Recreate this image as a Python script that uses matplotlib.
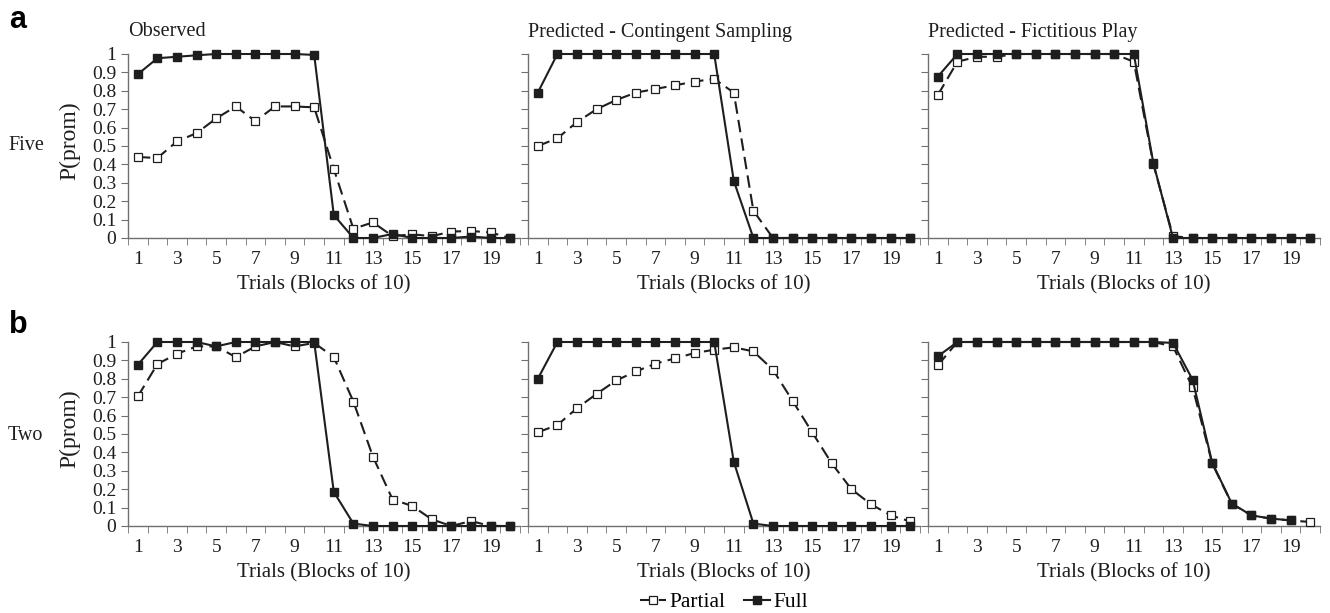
import matplotlib
matplotlib.use("Agg")
import matplotlib.pyplot as plt
import numpy as np

plt.rcParams["font.family"] = ["Liberation Serif", "DejaVu Serif"]

trials = np.arange(1, 21)

# row "Five"
five_obs_partial = [0.44, 0.435, 0.525, 0.57, 0.65, 0.715, 0.635, 0.715, 0.715, 0.71,
                    0.375, 0.05, 0.085, 0.01, 0.02, 0.01, 0.035, 0.038, 0.03, 0.0]
five_obs_full = [0.89, 0.977, 0.985, 0.993, 1.0, 1.0, 1.0, 1.0, 1.0, 0.995,
                 0.125, 0.0, 0.0, 0.022, 0.0, 0.0, 0.0, 0.008, 0.0, 0.0]
five_cs_partial = [0.5, 0.542, 0.63, 0.70, 0.75, 0.79, 0.81, 0.83, 0.85, 0.865,
                   0.79, 0.148, 0.0, 0.0, 0.0, 0.0, 0.0, 0.0, 0.0, 0.0]
five_cs_full = [0.79, 1.0, 1.0, 1.0, 1.0, 1.0, 1.0, 1.0, 1.0, 1.0,
                0.31, 0.0, 0.0, 0.0, 0.0, 0.0, 0.0, 0.0, 0.0, 0.0]
five_fp_partial = [0.777, 0.958, 0.985, 0.985, 1.0, 1.0, 1.0, 1.0, 1.0, 1.0,
                   0.958, 0.40, 0.01, 0.0, 0.0, 0.0, 0.0, 0.0, 0.0, 0.0]
five_fp_full = [0.877, 1.0, 1.0, 1.0, 1.0, 1.0, 1.0, 1.0, 1.0, 1.0,
                1.0, 0.406, 0.0, 0.0, 0.0, 0.0, 0.0, 0.0, 0.0, 0.0]

# row "Two"
two_obs_partial = [0.704, 0.88, 0.936, 0.976, 0.976, 0.918, 0.976, 1.0, 0.976, 0.995,
                   0.918, 0.676, 0.376, 0.144, 0.109, 0.036, 0.0, 0.027, 0.0, 0.0]
two_obs_full = [0.876, 1.0, 1.0, 1.0, 0.976, 1.0, 1.0, 1.0, 1.0, 1.0,
                0.185, 0.013, 0.0, 0.0, 0.0, 0.0, 0.0, 0.0, 0.0, 0.0]
two_cs_partial = [0.509, 0.549, 0.64, 0.718, 0.791, 0.84, 0.882, 0.911, 0.94, 0.958,
                  0.971, 0.949, 0.849, 0.68, 0.509, 0.34, 0.2, 0.118, 0.058, 0.025]
two_cs_full = [0.8, 1.0, 1.0, 1.0, 1.0, 1.0, 1.0, 1.0, 1.0, 1.0,
               0.349, 0.013, 0.0, 0.0, 0.0, 0.0, 0.0, 0.0, 0.0, 0.0]
two_fp_partial = [0.873, 1.0, 1.0, 1.0, 1.0, 1.0, 1.0, 1.0, 1.0, 1.0,
                  1.0, 1.0, 0.976, 0.753, 0.34, 0.12, 0.058, 0.04, 0.03, 0.022]
two_fp_full = [0.922, 1.0, 1.0, 1.0, 1.0, 1.0, 1.0, 1.0, 1.0, 1.0,
               1.0, 1.0, 0.995, 0.795, 0.344, 0.122, 0.058, 0.04, 0.031, np.nan]

titles = ["Observed", "Predicted - Contingent Sampling", "Predicted - Fictitious Play"]
row_names = ["Five", "Two"]
panel_letters = ["a", "b"]

panels = [
    [(five_obs_partial, five_obs_full), (five_cs_partial, five_cs_full), (five_fp_partial, five_fp_full)],
    [(two_obs_partial, two_obs_full), (two_cs_partial, two_cs_full), (two_fp_partial, two_fp_full)],
]

W, H = 1330, 613
fig = plt.figure(figsize=(W / 100, H / 100), dpi=100)

ink = "#1e1e1e"
spine_c = "#707070"
fs = 14

lefts = [128, 528, 928]
bottoms = [238, 526]
ax_w, ax_h = 392, 184

for r in range(2):
    for c in range(3):
        ax = fig.add_axes([lefts[c] / W, 1 - bottoms[r] / H, ax_w / W, ax_h / H])
        partial, full = panels[r][c]
        ax.plot(trials, partial, color=ink, lw=1.5, ls=(0, (6, 3)), marker="s", ms=6,
                mfc="white", mec=ink, mew=0.9, zorder=3, clip_on=False, label="Partial")
        ax.plot(trials, full, color=ink, lw=1.5, ls="-", marker="s", ms=6,
                mfc=ink, mec=ink, zorder=4, clip_on=False, label="Full")
        ax.set_xlim(0.5, 20.5)
        ax.set_ylim(0, 1)
        for s in ["top", "right"]:
            ax.spines[s].set_visible(False)
        for s in ["left", "bottom"]:
            ax.spines[s].set_color(spine_c)
            ax.spines[s].set_linewidth(1.0)
        ax.set_xticks(np.arange(1, 20, 2))
        ax.set_xticks(np.arange(0.5, 21, 1), minor=True)
        ax.tick_params(axis="x", which="major", length=0, labelsize=fs, pad=9, colors=ink)
        ax.tick_params(axis="x", which="minor", length=5, color=spine_c, direction="out")
        ax.set_yticks(np.arange(0, 1.01, 0.1))
        ax.tick_params(axis="y", length=5, color=spine_c, direction="out", labelsize=fs,
                       labelcolor=ink, pad=3.5)
        if c == 0:
            ax.set_yticklabels(["0"] + ["%.1f" % v for v in np.arange(0.1, 0.95, 0.1)] + ["1"])
            ax.set_ylabel("P(prom)", fontsize=17, color=ink)
            ax.yaxis.set_label_coords((70 - lefts[c]) / ax_w, 0.53)
            ax.yaxis.label.set_va("center")
        else:
            ax.set_yticklabels([])
        ax.set_xlabel("Trials (Blocks of 10)", fontsize=15, color=ink)
        ax.xaxis.set_label_coords(0.5, -47 / ax_h)
        ax.xaxis.label.set_va("center")
        if r == 0:
            ax.text(0, 1 + 22 / ax_h, titles[c], transform=ax.transAxes, fontsize=14.5,
                    color=ink, ha="left", va="center")
    fig.text(8 / W, 1 - (146 if r == 0 else 435) / H, row_names[r], fontsize=14.5,
             color=ink, va="center", ha="left")
    fig.text(9 / W, 1 - (28 if r == 0 else 333) / H, panel_letters[r], fontsize=22,
             fontweight="bold", family=["Liberation Sans", "DejaVu Sans"],
             va="baseline", ha="left", color="black")

handles, labels = ax.get_legend_handles_labels()
fig.legend(handles, labels, loc="center", bbox_to_anchor=(724 / W, 1 - 602 / H),
           ncol=2, frameon=False, fontsize=15.5, handlelength=1.2, handletextpad=0.15,
           columnspacing=0.9, borderpad=0)

fig.savefig("out.png", dpi=100)
